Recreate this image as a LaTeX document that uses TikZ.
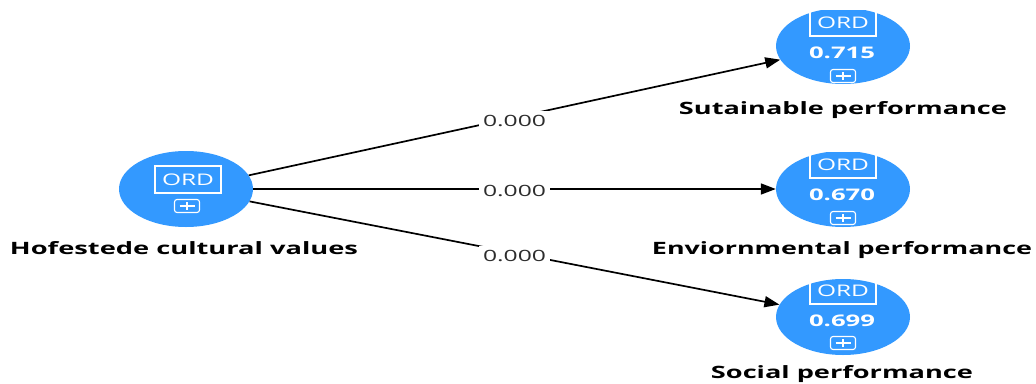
\documentclass[tikz,border=0pt]{standalone}
\usepackage{fontspec}
\setmainfont{Open Sans}
\usetikzlibrary{shapes.geometric,arrows.meta}
\definecolor{lvblue}{RGB}{51,153,255}
\definecolor{coefgray}{RGB}{45,45,45}
\newcommand\wfit[2]{\resizebox{#1}{\height}{#2}}
\begin{document}
\begin{tikzpicture}[x=1pt,y=-1pt,
  lv/.style={ellipse,fill=lvblue,draw=none,minimum width=134pt,minimum height=76pt,inner sep=0pt},
  ordbox/.style={draw=white,line width=1.2pt,minimum width=66pt,minimum height=27pt,inner sep=0pt,text=white,font=\fontsize{16}{16}\selectfont},
  valtxt/.style={text=white,font=\fontsize{16}{16}\selectfont\bfseries,inner sep=0pt},
  plusbox/.style={draw=white,line width=1.1pt,rounded corners=2.5pt,minimum width=25pt,minimum height=13pt,inner sep=0pt,
    path picture={\draw[white,line width=1.1pt]
      ([xshift=5pt]path picture bounding box.west) -- ([xshift=-5pt]path picture bounding box.east)
      ([yshift=-2.5pt]path picture bounding box.north) -- ([yshift=2.5pt]path picture bounding box.south);}},
  lvname/.style={font=\fontsize{17}{17}\selectfont\bfseries,anchor=base,inner sep=0pt},
  conn/.style={line width=1.7pt,-{Triangle[length=15pt,width=11pt]}},
  coef/.style={fill=white,inner sep=4pt,font=\fontsize{15.5}{15.5}\selectfont,text=coefgray}
]
\useasboundingbox (0,0) rectangle (1036,383);

% latent variables
\node[lv] (L) at (186,189) {};
\node[lv] (T) at (843,46) {};
\node[lv] (E) at (843,189) {};
\node[lv] (S) at (843,317) {};

% left content
\node[ordbox] (Lord) at (188,179.5) {\wfit{52pt}{ORD}};
\node[plusbox] (Lplus) at (187,206) {};

% top content
\node[ordbox] (Tord) at (843,22.5) {\wfit{52pt}{ORD}};
\node[valtxt] (Tval) at (842,53) {\wfit{66pt}{0.715}};
\node[plusbox] (Tplus) at (843,76) {};

% env content
\node[ordbox] (Eord) at (843,164.5) {\wfit{52pt}{ORD}};
\node[valtxt] (Eval) at (842,195) {\wfit{66pt}{0.670}};
\node[plusbox] (Eplus) at (843,218) {};

% social content
\node[ordbox] (Sord) at (843,290.5) {\wfit{52pt}{ORD}};
\node[valtxt] (Sval) at (842,321) {\wfit{66pt}{0.699}};
\node[plusbox] (Splus) at (843,343) {};

% names
\node[lvname] (Lname) at (184,254) {\wfit{348pt}{Hofestede cultural values}};
\node[lvname] (Tname) at (843,114) {\wfit{328pt}{Sutainable performance}};
\node[lvname] (Ename) at (842,254) {\wfit{380pt}{Enviornmental performance}};
\node[lvname] (Sname) at (842,378) {\wfit{262pt}{Social performance}};

% paths
\draw[conn] (L) -- node[coef,yshift=-3pt] (c1) {\wfit{63pt}{0.000}} (T);
\draw[conn] (L) -- node[coef,yshift=-1.5pt] (c2) {\wfit{63pt}{0.000}} (E);
\draw[conn] (L) -- node[coef,yshift=-2.5pt] (c3) {\wfit{63pt}{0.000}} (S);
\end{tikzpicture}
\end{document}
